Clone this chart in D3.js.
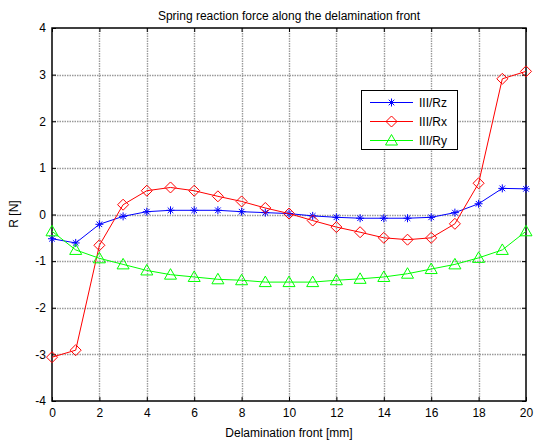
<!DOCTYPE html>
<html><head><meta charset="utf-8">
<script src="https://cdn.jsdelivr.net/npm/d3@7"></script>
<style>body{margin:0;background:#fff}svg{display:block;font-family:"Liberation Sans",Arial,sans-serif}</style>
</head><body><svg id="c" width="541" height="442"></svg>
<script>
const xValues = [0,1,2,3,4,5,6,7,8,9,10,11,12,13,14,15,16,17,18,19,20];
const rz = [-0.52,-0.61,-0.21,-0.04,0.06,0.09,0.09,0.09,0.06,0.04,0.02,-0.03,-0.06,-0.08,-0.08,-0.08,-0.06,0.04,0.23,0.56,0.55];
const rx = [-3.06,-2.91,-0.66,0.21,0.51,0.58,0.51,0.39,0.28,0.14,0.02,-0.13,-0.27,-0.38,-0.50,-0.54,-0.50,-0.20,0.67,2.91,3.07];
const ry = [-0.36,-0.76,-0.94,-1.07,-1.20,-1.29,-1.34,-1.39,-1.41,-1.45,-1.45,-1.45,-1.41,-1.38,-1.34,-1.27,-1.17,-1.07,-0.93,-0.76,-0.36];
const xTicks = [0,2,4,6,8,10,12,14,16,18,20];
const yTicks = [-4,-3,-2,-1,0,1,2,3,4];
const seriesNames = ["III/Rz","III/Rx","III/Ry"];
const seriesColors = ["#0000ff","#ff0000","#00ff00"];
const seriesMarkers = ["star","diamond","triangle"];
const title = "Spring reaction force along the delamination front";
const xLabel = "Delamination front [mm]";
const yLabel = "R [N]";

const svg = d3.select("#c");
const L=52, R=526, T=28, B=401;
const x = d3.scaleLinear().domain([0,20]).range([L,R]);
const y = d3.scaleLinear().domain([-4,4]).range([B,T]);

// grid
const g = svg.append("g");
g.selectAll(".gx").data(xTicks.slice(1,-1)).enter().append("line")
 .attr("x1",d=>Math.round(x(d))+0.5).attr("x2",d=>Math.round(x(d))+0.5).attr("y1",T).attr("y2",B)
 .attr("stroke","#9a9a9a").attr("stroke-width",1.4).attr("stroke-dasharray","1.5,1");
g.selectAll(".gy").data(yTicks.slice(1,-1)).enter().append("line")
 .attr("y1",d=>Math.round(y(d))+0.5).attr("y2",d=>Math.round(y(d))+0.5).attr("x1",L).attr("x2",R)
 .attr("stroke","#9a9a9a").attr("stroke-width",1.4).attr("stroke-dasharray","1.5,1");

// axes (ticks inward)
const tl=4;
const fmt = d=>String(d);
const axB = d3.axisBottom(x).tickValues(xTicks).tickSize(-tl).tickPadding(7).tickFormat(fmt);
const axT = d3.axisTop(x).tickValues(xTicks).tickSize(-tl).tickFormat("");
const axL = d3.axisLeft(y).tickValues(yTicks).tickSize(-tl).tickPadding(6).tickFormat(fmt);
const axR = d3.axisRight(y).tickValues(yTicks).tickSize(-tl).tickFormat("");
function style(sel){sel.select(".domain").remove();sel.selectAll("line").attr("stroke","#000");sel.selectAll("text").attr("font-size",12).attr("fill","#000").attr("font-family","Liberation Sans, Arial, sans-serif");}
svg.append("g").attr("transform",`translate(0,${B})`).call(axB).call(style);
svg.append("g").attr("transform",`translate(0,${T})`).call(axT).call(style);
svg.append("g").attr("transform",`translate(${L},0)`).call(axL).call(style);
svg.append("g").attr("transform",`translate(${R},0)`).call(axR).call(style);
svg.append("rect").attr("x",L).attr("y",T).attr("width",R-L).attr("height",B-T).attr("fill","none").attr("stroke","#000").attr("stroke-width",1.5);

function marker(sel,type,color){
  if(type==="star"){
    const s=4;
    sel.append("path").attr("d",`M${-s},0H${s}M0,${-s}V${s}M${-s*0.7},${-s*0.7}L${s*0.7},${s*0.7}M${-s*0.7},${s*0.7}L${s*0.7},${-s*0.7}`)
      .attr("stroke",color).attr("fill","none").attr("stroke-width",1);
  } else if(type==="diamond"){
    const s=5.5;
    sel.append("path").attr("d",`M0,${-s}L${s},0L0,${s}L${-s},0Z`).attr("stroke",color).attr("fill","none").attr("stroke-width",1);
  } else {
    const s=6;
    sel.append("path").attr("d",`M0,${-s}L${s},${s*0.75}L${-s},${s*0.75}Z`).attr("stroke",color).attr("fill","none").attr("stroke-width",1);
  }
}

const datasets=[rz,rx,ry];
const line = d3.line().x((d,i)=>x(xValues[i])).y(d=>y(d));
datasets.forEach((ds,k)=>{
  const gg = svg.append("g");
  gg.append("path").datum(ds).attr("d",line).attr("fill","none").attr("stroke",seriesColors[k]).attr("stroke-width",1);
  ds.forEach((v,i)=>{
    const m = gg.append("g").attr("transform",`translate(${x(xValues[i])},${y(v)})`);
    marker(m,seriesMarkers[k],seriesColors[k]);
  });
});

// legend
const lg = svg.append("g");
lg.append("rect").attr("x",361.5).attr("y",90.5).attr("width",96).attr("height",59).attr("fill","#fff").attr("stroke","#000");
seriesNames.forEach((n,k)=>{
  const yy = 102.5 + k*19;
  lg.append("line").attr("x1",370).attr("x2",413).attr("y1",yy).attr("y2",yy).attr("stroke",seriesColors[k]);
  const m = lg.append("g").attr("transform",`translate(391.5,${yy})`);
  marker(m,seriesMarkers[k],seriesColors[k]);
  lg.append("text").attr("x",419).attr("y",yy+4.5).attr("font-size",12).text(n);
});

svg.append("text").attr("x",289).attr("y",20).attr("text-anchor","middle").attr("font-size",12).text(title);
svg.append("text").attr("x",289).attr("y",437).attr("text-anchor","middle").attr("font-size",12).text(xLabel);
svg.append("text").attr("transform","translate(18,214) rotate(-90)").attr("text-anchor","middle").attr("font-size",12).text(yLabel);
</script></body></html>
